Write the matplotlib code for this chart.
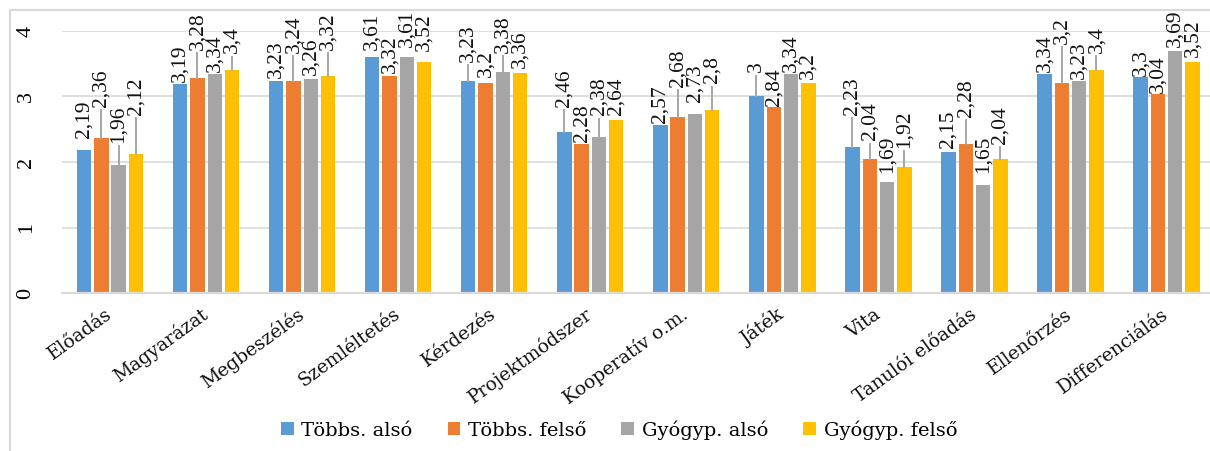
import matplotlib.pyplot as plt
from matplotlib.patches import Rectangle
from matplotlib.font_manager import FontProperties

# mean scores per teaching method, four school groups
methods = ["Előadás", "Magyarázat", "Megbeszélés", "Szemléltetés", "Kérdezés",
           "Projektmódszer", "Kooperatív o.m.", "Játék", "Vita",
           "Tanulói előadás", "Ellenőrzés", "Differenciálás"]
groups = ["Többs. alsó", "Többs. felső", "Gyógyp. alsó", "Gyógyp. felső"]

tobbs_also = [2.19, 3.19, 3.23, 3.61, 3.23, 2.46, 2.57, 3.00, 2.23, 2.15, 3.34, 3.30]
tobbs_felso = [2.36, 3.28, 3.24, 3.32, 3.20, 2.28, 2.68, 2.84, 2.04, 2.28, 3.20, 3.04]
gyogyp_also = [1.96, 3.34, 3.26, 3.61, 3.38, 2.38, 2.73, 3.34, 1.69, 1.65, 3.23, 3.69]
gyogyp_felso = [2.12, 3.40, 3.32, 3.52, 3.36, 2.64, 2.80, 3.20, 1.92, 2.04, 3.40, 3.52]
series = [tobbs_also, tobbs_felso, gyogyp_also, gyogyp_felso]

colors = ["#5B9BD5", "#ED7D31", "#A5A5A5", "#FFC000"]

# how far each value label sits above its bar (data units), to keep labels apart
label_lift = [
    [0.18, 0.03, 0.05, 0.10, 0.30, 0.38, 0.03, 0.37, 0.49, 0.07, 0.03, 0.02],
    [0.48, 0.43, 0.43, 0.04, 0.09, 0.03, 0.47, 0.02, 0.29, 0.41, 0.60, 0.02],
    [0.33, 0.03, 0.07, 0.15, 0.29, 0.33, 0.19, 0.03, 0.14, 0.18, 0.03, 0.06],
    [0.60, 0.26, 0.39, 0.18, 0.08, 0.07, 0.40, 0.06, 0.30, 0.24, 0.27, 0.08],
]

fig = plt.figure(figsize=(12.1, 4.51), dpi=100)
ax = fig.add_axes([62 / 1210, 0.3503, 96.05 * 12 / 1210, 0.581])

# light frame around the chart area
fig.add_artist(Rectangle((10 / 1210, -0.05), 1.2, 1.05 - 10 / 451,
                         transform=fig.transFigure, fill=False,
                         edgecolor="#D9D9D9", lw=1.5))

width = 0.15
step = 0.18
x = list(range(len(methods)))

for k, vals in enumerate(series):
    xs = [i + (k - 1.5) * step for i in x]
    ax.bar(xs, vals, width=width, color=colors[k], label=groups[k], zorder=2)
    for xi, v, lift in zip(xs, vals, label_lift[k]):
        txt = f"{v:g}".replace(".", ",")
        ax.text(xi, v + lift, txt, rotation=90, ha="center", va="bottom",
                fontsize=15.5, family="Liberation Serif", color="#111111",
                clip_on=False, zorder=4)
        if lift >= 0.2:
            ax.plot([xi, xi], [v, v + lift - 0.05], color="#A6A6A6",
                    lw=1.4, clip_on=False, zorder=3)

ax.set_xlim(-0.5, len(methods) - 0.5)
ax.set_ylim(0, 4)
ax.set_yticks([0, 1, 2, 3, 4])
ax.grid(axis="y", color="#D9D9D9", lw=1.2, zorder=0)
for s in ["top", "right", "left"]:
    ax.spines[s].set_visible(False)
ax.spines["bottom"].set_color("#D9D9D9")
ax.spines["bottom"].set_linewidth(1.6)

ax.tick_params(axis="y", length=0, pad=19)
for lab in ax.get_yticklabels():
    lab.set_rotation(90)
    lab.set_va("center")
    lab.set_fontsize(16)
    lab.set_family("Liberation Serif")

ax.set_xticks(x)
ax.set_xticklabels(methods, rotation=36, ha="right", va="center",
                   rotation_mode="anchor", fontsize=13.5, family="DejaVu Serif",
                   color="#111111")
ax.tick_params(axis="x", length=0, pad=14)

legend_font = FontProperties(family="DejaVu Serif", size=14)
fig.legend(loc="center", bbox_to_anchor=(619 / 1210, 1 - 430 / 451), ncol=4,
           frameon=False, prop=legend_font,
           handlelength=0.65, handleheight=0.65, handletextpad=0.4,
           columnspacing=1.8)

fig.savefig("out.png", dpi=100)
